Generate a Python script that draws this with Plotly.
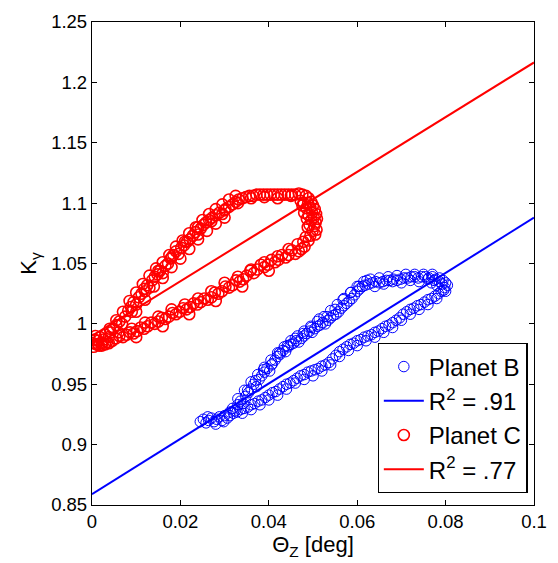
import plotly.graph_objects as go

# ---------------- data ----------------
planet_b_x = [0.0245,0.0252,0.0258,0.0264,0.0270,0.0276,0.0282,0.0288,0.0294,0.0300,0.0306,0.0262,0.0280,0.0298,
    0.0312,0.0318,0.0324,0.0330,0.0336,0.0342,0.0348,0.0354,0.0360,0.0366,0.0372,0.0378,0.0384,0.0390,0.0396,0.0402,
    0.0408,0.0414,0.0420,0.0426,0.0432,0.0438,0.0444,0.0450,0.0456,0.0462,0.0468,0.0474,0.0480,0.0486,0.0492,0.0498,
    0.0504,0.0510,0.0516,0.0522,0.0528,0.0534,0.0540,0.0546,0.0552,0.0558,0.0564,0.0570,0.0576,0.0582,0.0588,0.0594,
    0.0600,0.0606,0.0612,0.0618,0.0626,0.0634,0.0642,0.0650,0.0658,0.0666,0.0674,0.0682,0.0690,0.0698,0.0706,0.0714,
    0.0722,0.0730,0.0738,0.0746,0.0754,0.0762,0.0770,0.0778,0.0786,0.0794,0.0800,0.0804,
    0.0798,0.0792,0.0786,0.0780,0.0774,0.0768,0.0796,0.0790,
    0.0784,0.0776,0.0768,0.0760,0.0752,0.0744,0.0736,0.0728,0.0720,0.0712,0.0704,0.0696,0.0688,0.0680,0.0672,0.0664,
    0.0656,0.0648,0.0640,0.0632,0.0624,0.0616,0.0608,0.0600,0.0592,0.0584,0.0576,0.0568,0.0560,0.0552,0.0544,0.0536,
    0.0528,0.0520,0.0512,0.0504,0.0496,0.0488,0.0480,0.0472,0.0464,0.0456,0.0448,0.0440,0.0432,0.0424,0.0416,0.0408,
    0.0400,0.0392,0.0384,0.0376,0.0368,0.0360,0.0352,0.0344,0.0336,0.0328,0.0320,0.0312,
    0.0352,0.0370,0.0388,0.0406,0.0424,0.0442,0.0460,0.0478,0.0496,0.0514,0.0532,0.0550,0.0568,0.0586,0.0604,0.0622,
    0.0640,0.0660,0.0680,0.0700,0.0720,0.0740,0.0760,
    0.0330,0.0345,0.0360,0.0375,0.0390,0.0405,0.0420,0.0435,0.0450,0.0465,0.0480,0.0495,0.0510,0.0525,0.0540,0.0555,
    0.0570,0.0585,0.0600,0.0615,0.0630,0.0650,0.0670,0.0690,0.0710,0.0730,0.0750,0.0770,
    0.0340,0.0360,0.0380,0.0400,0.0420,0.0440,0.0460,0.0480,0.0500,0.0520,0.0540,0.0560,0.0580,0.0600,0.0620,0.0640,
    0.0660,0.0680,0.0700,0.0720,0.0740,0.0760,0.0780,0.0800]
planet_b_y = [0.919,0.921,0.918,0.920,0.922,0.919,0.921,0.923,0.920,0.924,0.922,0.923,0.917,0.919,
    0.927,0.930,0.928,0.933,0.936,0.934,0.940,0.943,0.946,0.950,0.948,0.954,0.957,0.960,0.963,0.961,
    0.967,0.970,0.973,0.975,0.978,0.977,0.981,0.983,0.984,0.986,0.985,0.988,0.990,0.992,0.994,0.993,
    0.996,0.998,0.999,1.001,1.000,1.003,1.005,1.007,1.008,1.010,1.013,1.015,1.017,1.019,1.021,1.024,
    1.027,1.029,1.031,1.032,1.033,1.034,1.035,1.034,1.035,1.036,1.036,1.037,1.036,1.037,1.038,1.038,
    1.039,1.039,1.038,1.039,1.039,1.038,1.039,1.037,1.038,1.036,1.034,1.032,
    1.030,1.033,1.035,1.032,1.036,1.034,1.028,1.027,
    1.025,1.023,1.021,1.020,1.018,1.016,1.015,1.013,1.012,1.010,1.008,1.005,1.003,1.001,0.999,0.998,
    0.996,0.994,0.993,0.991,0.990,0.989,0.987,0.986,0.984,0.983,0.981,0.979,0.977,0.974,0.971,0.968,
    0.966,0.965,0.963,0.962,0.961,0.960,0.958,0.957,0.955,0.953,0.951,0.950,0.948,0.946,0.944,0.943,
    0.941,0.939,0.937,0.936,0.934,0.933,0.931,0.930,0.929,0.927,0.926,0.924,
    0.945,0.953,0.962,0.966,0.976,0.982,0.988,0.992,0.997,1.004,1.006,1.012,1.020,1.026,1.031,1.036,
    1.031,1.033,1.035,1.034,1.036,1.035,1.037,
    0.938,0.945,0.952,0.958,0.964,0.970,0.976,0.981,0.986,0.990,0.994,0.998,1.002,1.006,1.011,1.016,
    1.021,1.026,1.031,1.035,1.037,1.038,1.039,1.040,1.041,1.041,1.041,1.041,
    0.926,0.929,0.933,0.937,0.941,0.946,0.951,0.954,0.957,0.961,0.966,0.973,0.978,0.982,0.986,0.989,
    0.993,0.997,1.003,1.008,1.012,1.016,1.021,1.027]

planet_c_x = [0.0003,0.0006,0.0010,0.0014,0.0018,0.0008,0.0022,0.0026,0.0030,0.0034,0.0004,0.0016,0.0038,0.0042,
    0.0048,0.0055,0.0062,0.0068,0.0075,0.0082,0.0088,0.0094,0.0100,0.0106,0.0112,0.0118,0.0125,0.0130,0.0136,0.0142,
    0.0148,0.0154,0.0160,0.0166,0.0172,0.0178,0.0184,0.0190,0.0196,0.0202,0.0208,0.0215,0.0221,0.0228,0.0234,0.0240,
    0.0246,0.0252,0.0258,0.0265,0.0272,0.0280,0.0288,0.0295,0.0302,0.0310,0.0318,0.0325,0.0332,0.0340,0.0348,0.0356,
    0.0364,0.0372,0.0380,0.0388,0.0396,0.0404,0.0412,0.0420,0.0428,0.0436,0.0444,0.0452,0.0460,0.0468,0.0476,0.0484,
    0.0490,0.0496,0.0500,0.0504,0.0507,0.0509,0.0506,0.0502,0.0498,0.0494,0.0489,0.0485,0.0490,0.0496,0.0503,0.0508,
    0.0505,0.0499,0.0492,0.0486,0.0480,0.0476,0.0472,0.0479,0.0488,0.0494,0.0490,0.0484,0.0478,0.0481,0.0474,
    0.0468,0.0460,0.0452,0.0445,0.0438,0.0430,0.0422,0.0414,0.0406,0.0398,0.0390,0.0382,0.0374,0.0366,0.0358,0.0350,
    0.0342,0.0334,0.0326,0.0318,0.0310,0.0302,0.0294,0.0286,0.0278,0.0270,0.0262,0.0254,0.0246,0.0238,0.0230,0.0222,
    0.0214,0.0206,0.0198,0.0190,0.0182,0.0174,0.0166,0.0158,0.0150,0.0142,0.0134,0.0126,0.0118,0.0110,0.0102,0.0094,
    0.0086,0.0078,0.0070,0.0062,0.0054,0.0046,0.0038,0.0030,0.0022,0.0014,
    0.0090,0.0120,0.0150,0.0180,0.0210,0.0240,0.0270,0.0300,0.0330,0.0360,0.0390,0.0420,0.0450,
    0.0040,0.0055,0.0070,0.0085,0.0100,0.0115,0.0130,0.0145,0.0160,0.0175,0.0190,0.0205,0.0220,0.0235,0.0250,0.0265,
    0.0280,0.0295,0.0310,0.0325,
    0.0100,0.0120,0.0140,0.0160,0.0180,0.0200,0.0220,0.0240,0.0260,0.0280,0.0300,
    0.0060,0.0090,0.0120,0.0150,0.0180,0.0210,0.0240,0.0270,0.0300,0.0330,0.0360,0.0390,0.0420,0.0445,0.0465,
    0.0100,0.0160,0.0220,0.0280,0.0340,0.0400]
planet_c_y = [0.984,0.987,0.983,0.986,0.989,0.990,0.984,0.987,0.991,0.985,0.981,0.982,0.989,0.993,
    0.996,0.999,1.002,1.000,1.006,1.011,1.014,1.018,1.016,1.022,1.025,1.029,1.032,1.030,1.036,1.039,
    1.041,1.044,1.042,1.048,1.050,1.054,1.057,1.060,1.058,1.063,1.065,1.068,1.070,1.073,1.076,1.074,
    1.079,1.082,1.084,1.086,1.088,1.090,1.092,1.091,1.095,1.097,1.099,1.101,1.103,1.104,1.105,1.106,
    1.106,1.107,1.107,1.107,1.107,1.107,1.107,1.107,1.107,1.107,1.107,1.107,1.107,1.108,1.107,1.106,
    1.104,1.101,1.098,1.095,1.091,1.087,1.084,1.088,1.092,1.096,1.100,1.096,1.090,1.086,1.081,1.078,
    1.074,1.077,1.082,1.087,1.092,1.098,1.102,1.100,1.080,1.073,1.069,1.072,1.068,1.064,1.062,
    1.060,1.058,1.061,1.057,1.055,1.057,1.053,1.051,1.053,1.049,1.047,1.049,1.045,1.042,1.044,1.040,
    1.037,1.035,1.036,1.032,1.030,1.031,1.027,1.025,1.026,1.022,1.020,1.021,1.018,1.016,1.017,1.014,
    1.012,1.013,1.010,1.008,1.009,1.006,1.004,1.005,1.002,1.000,1.001,0.998,0.996,0.997,0.994,0.992,
    0.993,0.991,0.989,0.990,0.988,0.986,0.984,0.983,0.982,0.983,
    1.010,1.027,1.044,1.055,1.068,1.080,1.085,1.094,1.100,1.104,1.105,1.104,1.106,
    0.996,1.003,1.010,1.019,1.026,1.033,1.040,1.046,1.051,1.057,1.064,1.069,1.075,1.080,1.086,1.091,
    1.095,1.099,1.103,1.106,
    1.010,1.020,1.031,1.038,1.047,1.054,1.062,1.070,1.077,1.083,1.088,
    0.993,0.996,1.001,1.006,1.012,1.016,1.021,1.027,1.034,1.039,1.045,1.051,1.056,1.062,1.066,
    0.989,0.998,1.008,1.019,1.031,1.044]

fit_x = [0.0, 0.1]
fit_b_y = [0.859, 1.088]
fit_c_y = [0.990, 1.2165]

x_tickvals = [0, 0.02, 0.04, 0.06, 0.08, 0.1]
x_ticktext = ["0", "0.02", "0.04", "0.06", "0.08", "0.1"]
y_tickvals = [0.85, 0.9, 0.95, 1.0, 1.05, 1.1, 1.15, 1.2, 1.25]
y_ticktext = ["0.85", "0.9", "0.95", "1", "1.05", "1.1", "1.15", "1.2", "1.25"]

names = ["Planet B", "R<sup>2</sup> = .91", "Planet C", "R<sup>2</sup> = .77"]

BLUE = "#0000ff"
RED = "#ff0000"
FONT = "Liberation Sans, Arial, sans-serif"

fig = go.Figure()
fig.add_trace(go.Scatter(x=planet_b_x, y=planet_b_y, mode="markers", name=names[0],
                         legendgroup="g1",
                         marker=dict(symbol="circle-open", size=10.5, color=BLUE, line=dict(width=1, color=BLUE))))
fig.add_trace(go.Scatter(x=fit_x, y=fit_b_y, mode="lines", name=names[1], legendgroup="g2",
                         line=dict(color=BLUE, width=2)))
fig.add_trace(go.Scatter(x=planet_c_x, y=planet_c_y, mode="markers", name=names[2],
                         legendgroup="g3",
                         marker=dict(symbol="circle-open", size=11, color=RED, line=dict(width=1.6, color=RED))))
fig.add_trace(go.Scatter(x=fit_x, y=fit_c_y, mode="lines", name=names[3], legendgroup="g4",
                         line=dict(color=RED, width=2)))

axis_common = dict(showline=True, linecolor="black", linewidth=1.3, mirror="ticks",
                   ticks="inside", ticklen=5, tickcolor="black", showgrid=False, zeroline=False,
                   ticklabeloverflow="allow",
                   tickfont=dict(family=FONT, size=18.5, color="black"))

fig.update_layout(
    width=558, height=563,
    margin=dict(l=92, r=11, t=15, b=58),
    paper_bgcolor="white", plot_bgcolor="white",
    font=dict(family=FONT, size=18, color="black"),
    xaxis=dict(range=[0, 0.1], tickvals=x_tickvals, ticktext=x_ticktext,
               title=dict(text="Θ<sub>Z</sub> [deg]", font=dict(family=FONT, size=22), standoff=2),
               **axis_common),
    yaxis=dict(range=[0.85, 1.25], tickvals=y_tickvals, ticktext=y_ticktext,
               title=dict(text="K<sub>γ</sub>", font=dict(family=FONT, size=22), standoff=8),
               **axis_common),
    legend=dict(x=0.646, y=0.0245, xanchor="left", yanchor="bottom",
                bgcolor="white", bordercolor="black", borderwidth=1.3,
                font=dict(family=FONT, size=24, color="black"),
                itemwidth=40,
                traceorder="grouped", tracegroupgap=0),
    showlegend=True,
)

fig.write_html("out.html")
